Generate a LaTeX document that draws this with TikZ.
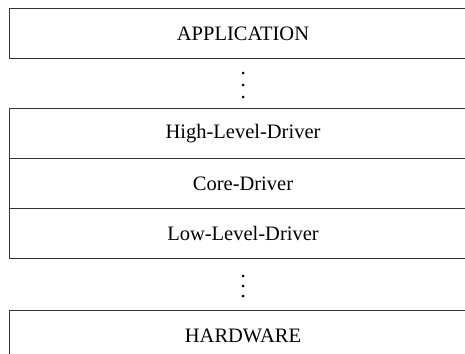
\documentclass[tikz,border=0pt]{standalone}
\usepackage{fontspec}
\setmainfont{Liberation Serif}
\begin{document}
\begin{tikzpicture}[x=1pt,y=-1pt,
  layer/.style={draw=black!80, line width=1.2pt, minimum width=467pt,
    minimum height=50pt, inner sep=0pt, font=\fontsize{20.5}{24}\selectfont},
  dotmark/.style={circle, fill=black, inner sep=0pt, minimum size=3pt}]
\useasboundingbox (0,0) rectangle (465,353);
\clip (0,0) rectangle (465,353);

% layers of the driver stack
\node[layer] (app)  at (243,33.5)  {APPLICATION};
\node[layer] (high) at (243,133.5) {High-Level-Driver};
\node[layer] (core) at (243,183.5) {Core-Driver};
\node[layer] (low)  at (243,233.5) {Low-Level-Driver};
\node[layer] (hw)   at (243,335.5) {HARDWARE};

% vertical ellipses between the layers
\node[dotmark] (ua) at (243,73) {};
\node[dotmark] (ub) at (243,85) {};
\node[dotmark] (uc) at (243,97) {};
\node[dotmark] (la) at (243,276) {};
\node[dotmark] (lb) at (243,286) {};
\node[dotmark] (lc) at (243,296) {};
\end{tikzpicture}
\end{document}
